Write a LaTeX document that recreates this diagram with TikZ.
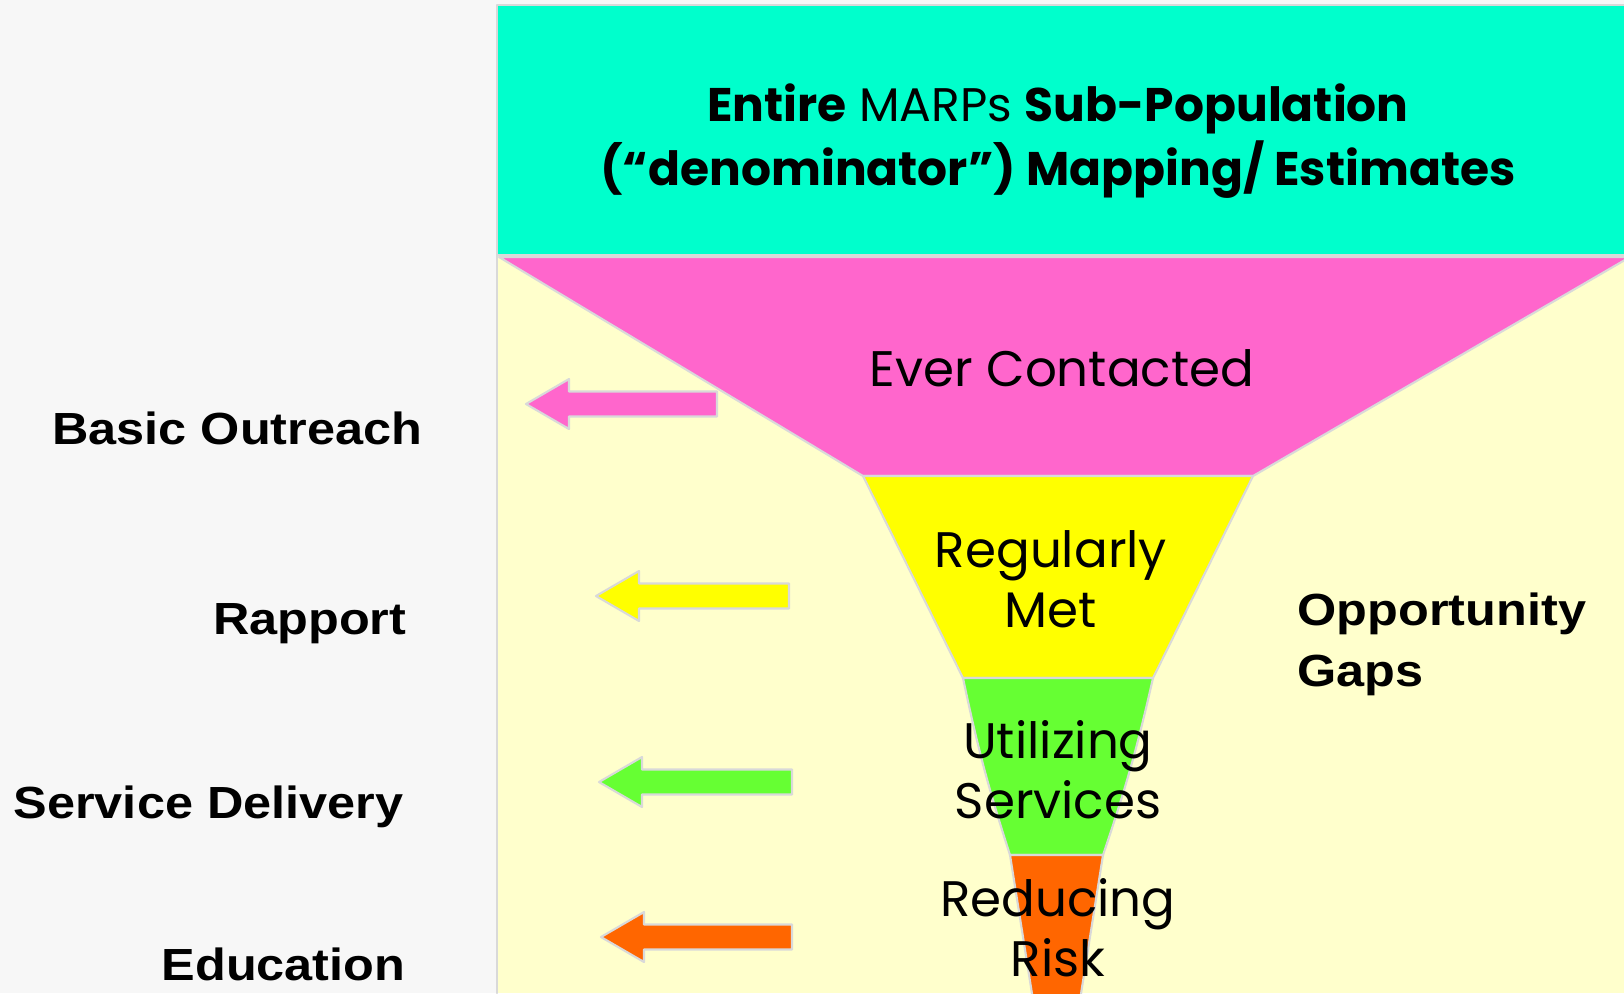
\documentclass[tikz,border=0pt]{standalone}
\usepackage{fontspec}
\setmainfont{Liberation Sans}
\newfontfamily\sidefont[FakeStretch=1.12]{Liberation Sans}
\newfontfamily\gothic{Poppins}
\usetikzlibrary{positioning}
\definecolor{leftbg}{HTML}{F7F7F7}
\definecolor{panelbg}{HTML}{FFFFCC}
\definecolor{topcyan}{HTML}{00FFCC}
\definecolor{pinkband}{HTML}{FF66CC}
\definecolor{yellowband}{HTML}{FFFF00}
\definecolor{greenband}{HTML}{66FF33}
\definecolor{orangeband}{HTML}{FF6600}
\definecolor{edge}{HTML}{D9D9D9}
\begin{document}
\begin{tikzpicture}[x=0.01cm, y=-0.01cm, line join=round, line cap=round,
		band/.style={draw=edge, line width=0.6pt},
		stage/.style={font=\gothic\fontsize{14.2}{17}\selectfont, align=center},
		side/.style={font=\sidefont\bfseries\fontsize{12.8}{17.4}\selectfont, inner sep=0pt}]
	\useasboundingbox (0,0) rectangle (1624,993);
	% backgrounds
	\fill[leftbg] (0,0) rectangle (1624,993);
	\fill[panelbg] (497,255) rectangle (1624,993);
	\draw[edge, line width=0.6pt] (497,255) -- (497,993);
	\draw[band, fill=topcyan] (497,5) rectangle (1630,255);
	% funnel
	\draw[band, fill=pinkband] (499,257) -- (1630,257) -- (1253,476) -- (863,476) -- cycle;
	\draw[band, fill=yellowband] (863,476) -- (1253,476) -- (1153,678) -- (963,678) -- cycle;
	\draw[band, fill=greenband] (963,678) -- (1153,678) to[bend left=3] (1103,855) -- (1010,855) to[bend left=3] cycle;
	\fill[orangeband] (1010,855) -- (1103,855) -- (1080,1000) -- (1033,1000) -- cycle;
	\draw[band] (1033,1000) -- (1010,855) -- (1103,855) -- (1080,1000);
	% arrows
	\foreach \col/\tip/\yy/\tail in {pinkband/526/404/717, yellowband/596/596/789, greenband/599/782/792, orangeband/601/937/792}
		\draw[band, fill=\col] (\tip,\yy) -- (\tip+43,\yy-25) -- (\tip+43,\yy-12.5) -- (\tail,\yy-12.5)
			-- (\tail,\yy+12.5) -- (\tip+43,\yy+12.5) -- (\tip+43,\yy+25) -- cycle;
	% texts
	\node[stage, font=\gothic\fontsize{13.4}{18.2}\selectfont] (title) at (1058,141)
		{\textbf{Entire} MARPs \textbf{Sub-Population}\\\textbf{(“denominator”) Mapping/ Estimates}};
	\node[stage] (contacted) at (1062,368) {Ever Contacted};
	\node[stage] (met) at (1051,579) {Regularly\\Met};
	\node[stage] (using) at (1058,770) {Utilizing\\Services};
	\node[stage] (reducing) at (1058,928) {Reducing\\Risk};
	\node[side, anchor=east] (outreach) at (423,428) {Basic Outreach};
	\node[side, anchor=east] (rapport) at (407,624) {Rapport};
	\node[side, anchor=east] (delivery) at (404,807) {Service Delivery};
	\node[side, anchor=east] (education) at (406,964) {Education};
	\node[side, anchor=west, align=left] (gaps) at (1297,644) {Opportunity\\Gaps};
\end{tikzpicture}
\end{document}
